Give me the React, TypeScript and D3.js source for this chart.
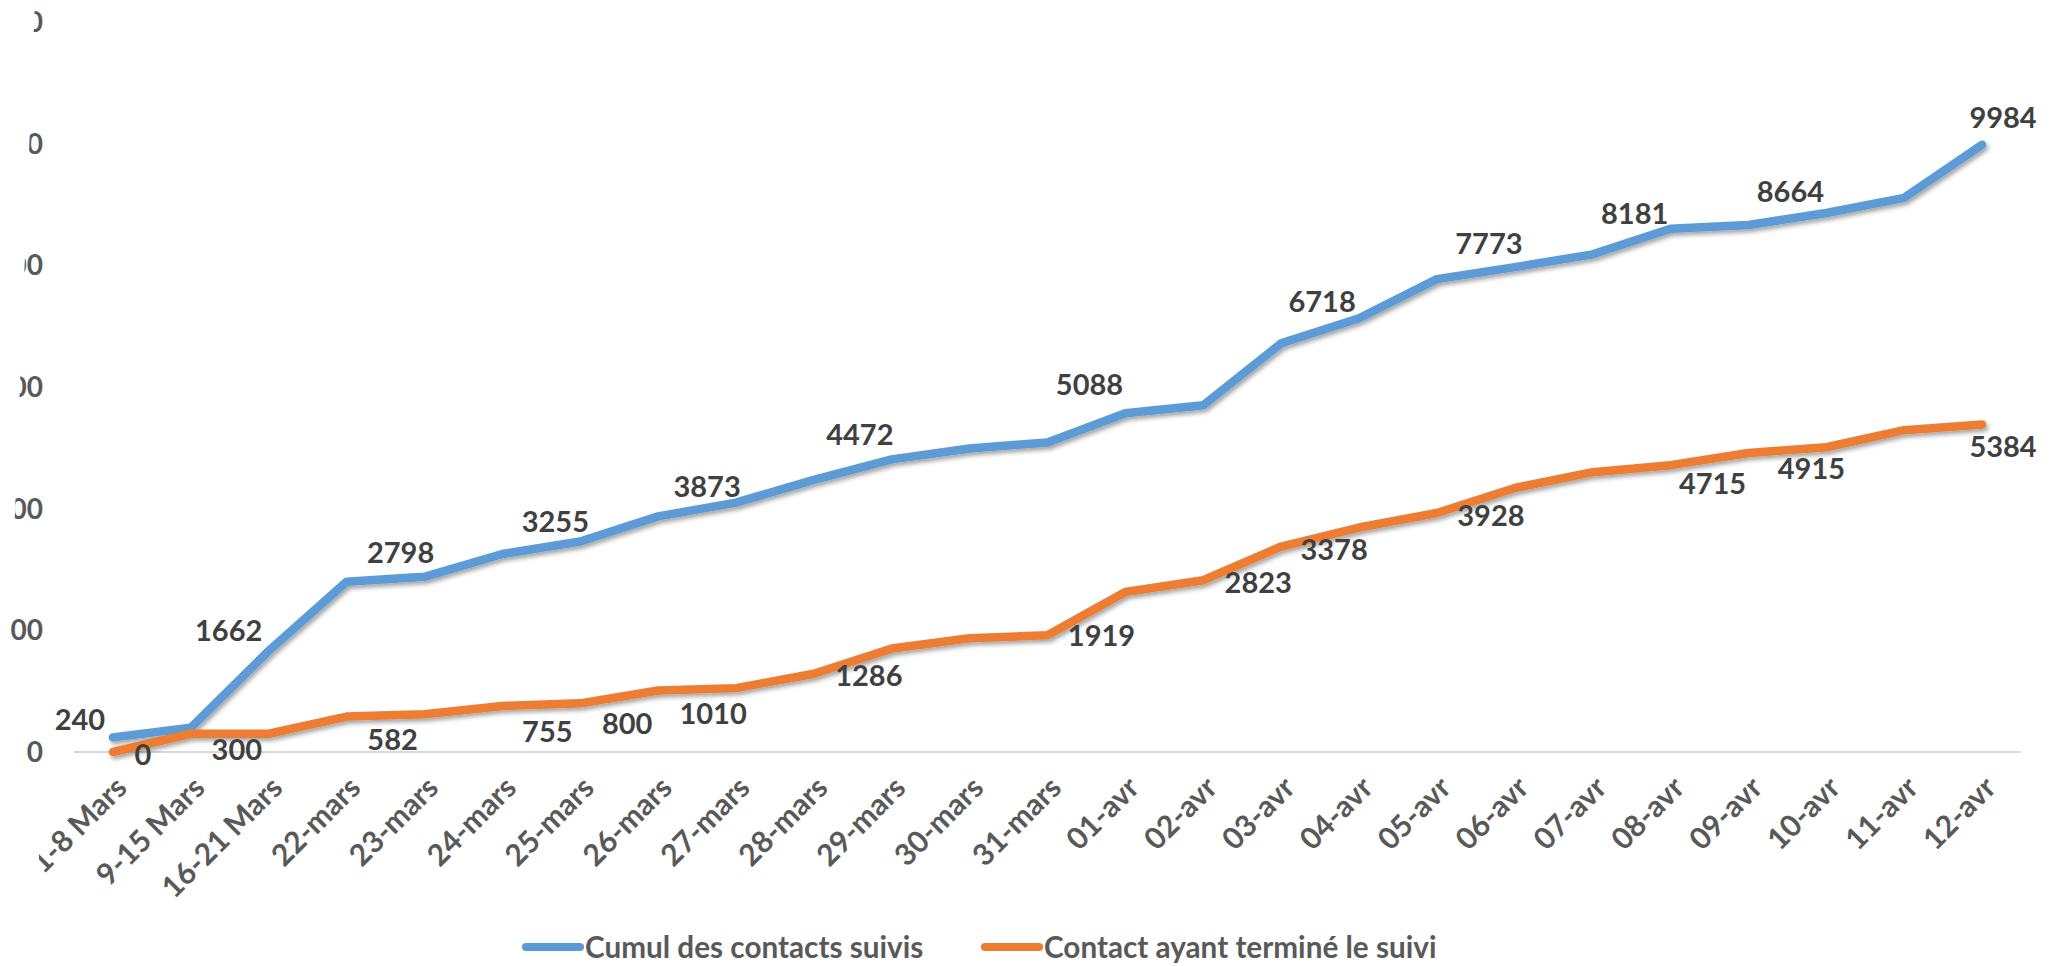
import { useEffect, useRef } from "react";
import * as d3 from "d3";

const categories = [
  "1-8 Mars", "9-15 Mars", "16-21 Mars",
  "22-mars", "23-mars", "24-mars", "25-mars", "26-mars", "27-mars",
  "28-mars", "29-mars", "30-mars", "31-mars",
  "01-avr", "02-avr", "03-avr", "04-avr", "05-avr", "06-avr",
  "07-avr", "08-avr", "09-avr", "10-avr", "11-avr", "12-avr",
];

// Cumul des contacts suivis
const cumulSuivis = [
  240, 400, 1662, 2798, 2880, 3255, 3460, 3873, 4100, 4472, 4810, 4990, 5088,
  5570, 5700, 6718, 7130, 7773, 7970, 8181, 8600, 8664, 8860, 9110, 9984,
];

// Contact ayant terminé le suivi
const suiviTermine = [
  0, 300, 300, 582, 620, 755, 800, 1010, 1050, 1286, 1700, 1870, 1919,
  2630, 2823, 3378, 3690, 3928, 4340, 4600, 4715, 4915, 5010, 5290, 5384,
];

const yTicks = [0, 2000, 4000, 6000, 8000, 10000, 12000];
const seriesNames = ["Cumul des contacts suivis", "Contact ayant terminé le suivi"];
const seriesColors = ["#5B9BD5", "#ED7D31"];

// which points carry a value label, and where the label sits (dx, dy from the point)
const blueLabelPlacement: [number, number, number][] = [
  [0, -33, -18], [2, -40, -20], [3, 54, -29], [5, 53, -32], [7, 49, -30],
  [9, 46, -45], [12, 42, -58], [15, 41, -42], [17, 52, -36], [19, 42, -41],
  [21, 42, -33], [24, 21, -27],
];
const orangeLabelPlacement: [number, number, number][] = [
  [0, 30, 3], [1, 46, 16], [3, 46, 23], [5, 45, 25], [6, 47, 20], [7, 55, 23],
  [9, 55, 2], [12, 54, 0], [14, 55, 2], [15, 53, 3], [17, 54, 3], [20, 42, 18],
  [21, 63, 16], [24, 21, 22],
];

const FONT = "Lato, 'Open Sans', sans-serif";

export default function App() {
  const svgRef = useRef<SVGSVGElement>(null);

  useEffect(() => {
    if (!svgRef.current) return;
    const svg = d3.select(svgRef.current);
    svg.selectAll("*").remove();

    const x = d3.scalePoint<string>().domain(categories).range([74, 2021]).padding(0.5);
    const y = d3.scaleLinear().domain([0, 12000]).range([752, 22]);

    const defs = svg.append("defs");
    const f = defs.append("filter").attr("id", "shadow")
      .attr("x", "-5%").attr("y", "-20%").attr("width", "110%").attr("height", "140%");
    f.append("feDropShadow").attr("dx", 2).attr("dy", 3).attr("stdDeviation", 2)
      .attr("flood-color", "#000").attr("flood-opacity", 0.35);

    // the source picture is cropped on the left with a slight slant
    defs.append("clipPath").attr("id", "yclip").append("polygon")
      .attr("points", "35,0 2051,0 2051,966 0,966 10,640");
    defs.append("clipPath").attr("id", "xclip").append("rect")
      .attr("x", 39).attr("y", 0).attr("width", 2051).attr("height", 966);

    // baseline
    svg.append("line")
      .attr("x1", 74).attr("x2", 2021)
      .attr("y1", y(0)).attr("y2", y(0))
      .attr("stroke", "#d9d9d9").attr("stroke-width", 2);

    // y tick labels
    svg.append("g").attr("clip-path", "url(#yclip)")
      .selectAll("text").data(yTicks).join("text")
      .attr("x", 43).attr("y", (d) => y(d))
      .attr("dy", "0.36em")
      .attr("text-anchor", "end")
      .attr("font-family", FONT).attr("font-weight", 700).attr("font-size", 28)
      .attr("fill", "#595959")
      .text((d) => d);

    // x tick labels
    svg.append("g").attr("clip-path", "url(#xclip)")
      .selectAll("text").data(categories).join("text")
      .attr("transform", (d) => `translate(${(x(d) ?? 0) + 8},${782}) rotate(-45)`)
      .attr("dy", "0.36em")
      .attr("text-anchor", "end")
      .attr("font-family", FONT).attr("font-weight", 700).attr("font-size", 30)
      .attr("fill", "#595959")
      .text((d) => d);

    const line = d3.line<number>()
      .x((_d, i) => x(categories[i]) ?? 0)
      .y((d) => y(d));

    [cumulSuivis, suiviTermine].forEach((values, s) => {
      svg.append("path")
        .datum(values)
        .attr("d", line)
        .attr("fill", "none")
        .attr("stroke", seriesColors[s])
        .attr("stroke-width", 8.5)
        .attr("stroke-linejoin", "round")
        .attr("stroke-linecap", "round")
        .attr("filter", "url(#shadow)");
    });

    const drawLabels = (values: number[], placement: [number, number, number][]) => {
      svg.append("g").selectAll("text").data(placement).join("text")
        .attr("x", ([i, dx]) => (x(categories[i]) ?? 0) + dx)
        .attr("y", ([i, , dy]) => y(values[i]) + dy)
        .attr("dy", "0.36em")
        .attr("text-anchor", "middle")
        .attr("font-family", FONT).attr("font-weight", 700).attr("font-size", 29)
        .attr("fill", "#404040")
        .text(([i]) => values[i]);
    };
    drawLabels(cumulSuivis, blueLabelPlacement);
    drawLabels(suiviTermine, orangeLabelPlacement);

    // legend
    const legendX = [526, 985];
    const legend = svg.append("g");
    seriesNames.forEach((name, s) => {
      legend.append("line")
        .attr("x1", legendX[s]).attr("x2", legendX[s] + 54)
        .attr("y1", 947).attr("y2", 947)
        .attr("stroke", seriesColors[s]).attr("stroke-width", 8)
        .attr("stroke-linecap", "round");
      legend.append("text")
        .attr("x", legendX[s] + 59).attr("y", 947).attr("dy", "0.36em")
        .attr("font-family", FONT).attr("font-weight", 700).attr("font-size", 29.7)
        .attr("fill", "#595959")
        .text(name);
    });
  }, []);

  return (
    <svg
      ref={svgRef}
      width={2051}
      height={966}
      style={{ position: "absolute", left: 0, top: 0, background: "#fff" }}
    />
  );
}
